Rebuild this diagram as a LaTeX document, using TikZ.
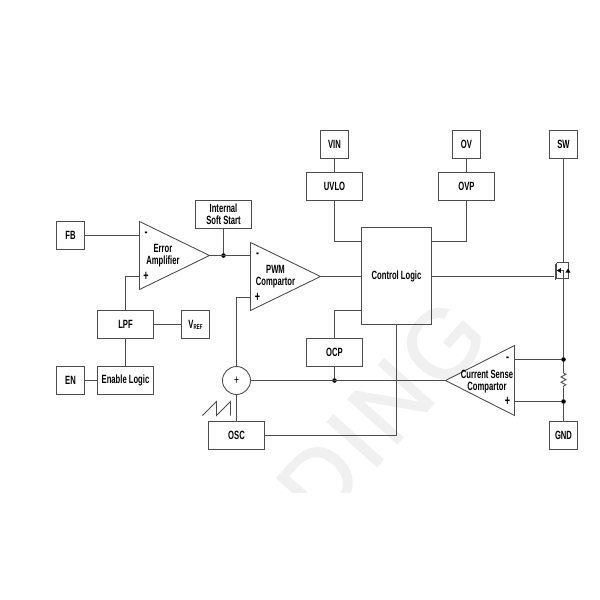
\documentclass[tikz,border=0pt]{standalone}
\usepackage{fontspec}
\setmainfont[FakeStretch=0.64]{Liberation Sans}
\newfontfamily\wmfont[FakeBold=1.6,LetterSpace=5]{Liberation Sans}
\usetikzlibrary{decorations.pathmorphing}

\tikzset{
  wire/.style={draw=black!70,line width=0.5pt},
  block/.style={draw=black!70,line width=0.5pt,inner sep=0pt,align=center,
    font=\fontsize{6.8}{6.8}\selectfont\bfseries,text=black},
  pin/.style={block,minimum width=0.56cm,minimum height=0.56cm},
  wide/.style={block,minimum width=1.12cm,minimum height=0.56cm},
  lbl/.style={inner sep=0pt,align=center,font=\fontsize{6.8}{6.8}\selectfont\bfseries,text=black},
  sgn/.style={inner sep=0pt,font=\fontsize{8}{8}\selectfont\bfseries,text=black},
  dot/.style={circle,fill=black,inner sep=0pt,minimum size=2.6pt}
}

\begin{document}
\begin{tikzpicture}[x=0.02cm,y=-0.02cm]
  \useasboundingbox (0,0) rectangle (600,600);

  % watermark
  \begin{scope}
    \clip (0,0) rectangle (600,492);
    \node[rotate=48,text=black!6,inner sep=0pt,font=\fontsize{55}{55}\selectfont\wmfont] (mark) at (382,411) {DING};
  \end{scope}

  % pins
  \foreach \name/\x/\y/\txt in {fb/70.5/235.5/FB,en/70.5/380.5/EN,vin/334.5/144.5/VIN,ov/466.5/144.5/OV,sw/563.5/144.5/SW,gnd/563.5/435.5/GND} {
    \node[pin] (\name) at (\x,\y) {\txt};
  }
  \node[pin] (vref) at (195.5,324.5) {V\raisebox{-0.5pt}{\fontsize{4}{4}\selectfont REF}};

  % blocks
  \foreach \name/\x/\y/\txt in {soft/223.5/214.5/Internal\\Soft Start,lpf/125.5/324.5/LPF,enl/125.5/380.5/Enable Logic,uvlo/334.5/186.5/UVLO,ovp/466.5/186.5/OVP,ocp/334.5/352.5/OCP,osc/236.5/435.5/OSC} {
    \node[wide] (\name) at (\x,\y) {\txt};
  }
  \node[block,minimum width=1.4cm,minimum height=1.94cm] (ctrl) at (396.5,276) {Control Logic};
  \node[draw=black!70,line width=0.5pt,circle,minimum size=0.56cm,inner sep=0pt,font=\fontsize{7.5}{7.5}\selectfont] (sum) at (236.5,380.5) {+};

  % amplifiers
  \coordinate (eaM) at (139.5,235.5);
  \coordinate (eaP) at (139.5,276.5);
  \coordinate (eaO) at (209.5,255.5);
  \draw[wire] (139.5,221.5) -- (eaO) -- (139.5,289.5) -- cycle;
  \node[lbl] (eaT) at (163,255.7) {Error\\Amplifier};
  \node[sgn] (eaA) at (146,234.5) {-};
  \node[sgn] (eaB) at (146,276) {+};

  \coordinate (pwM) at (250.5,255.5);
  \coordinate (pwP) at (250.5,297.5);
  \coordinate (pwO) at (320.5,276.5);
  \draw[wire] (250.5,242.5) -- (pwO) -- (250.5,310.5) -- cycle;
  \node[lbl] (pwT) at (275.5,276.3) {PWM\\Compartor};
  \node[sgn] (pwA) at (257.5,255) {-};
  \node[sgn] (pwB) at (257.5,297) {+};

  \coordinate (csM) at (514.5,359.5);
  \coordinate (csP) at (514.5,401.5);
  \coordinate (csO) at (445.5,380.5);
  \draw[wire] (514.5,345.5) -- (csO) -- (514.5,415.5) -- cycle;
  \node[lbl] (csT) at (487,382) {Current Sense\\Compartor};
  \node[sgn] (csA) at (507.5,359.5) {-};
  \node[sgn] (csB) at (507.5,401) {+};

  % saw tooth
  \draw[wire] (202.5,415.5) -- (216.5,401.5) -- (216.5,415.5) -- (230.5,401.5) -- (230.5,415.5);

  % control logic side points
  \coordinate (ctUv) at (361.5,241.5);
  \coordinate (ctOv) at (431.5,241.5);
  \coordinate (ctOc) at (361.5,310.5);
  \coordinate (ctPw) at (361.5,276.5);
  \coordinate (ctQ) at (431.5,276.5);
  \coordinate (ctOs) at (396.5,325);

  % mosfet
  \coordinate (qG) at (554.5,276.5);
  \coordinate (qD) at (563.5,262.5);
  \coordinate (qS) at (563.5,278.5);
  \draw[wire] (ctQ) -- (qG);
  \draw[wire,line width=0.7pt] (555.2,263.5) -- (555.2,279.5);
  \draw[wire,line width=0.7pt] (556.8,262.5) -- (556.8,278.5);
  \draw[wire] (556.8,262.5) -- (568,262.5) -- (568,278.5) -- (556.8,278.5);
  \draw[wire] (556.8,270.5) -- (563.5,270.5) -- (qS);
  \fill (556.8,270.5) -- (561,268) -- (561,273) -- cycle;
  \fill (568,268.5) -- (565.5,272.5) -- (570.5,272.5) -- cycle;

  % sense branch
  \node[dot] (dotM) at (563.5,359.5) {};
  \node[dot] (dotP) at (563.5,401.5) {};
  \node[dot] (dotS) at (223.5,255.5) {};
  \node[dot] (dotC) at (334.5,380.5) {};
  \coordinate (rT) at (563.5,373);
  \coordinate (rB) at (563.5,387.5);

  % connections
  \draw[wire] (fb) -- (eaM);
  \draw[wire] (lpf.north) |- (eaP);
  \draw[wire] (lpf) -- (vref);
  \draw[wire] (lpf) -- (enl);
  \draw[wire] (en) -- (enl);
  \draw[wire] (eaO) -- (pwM);
  \draw[wire] (soft) -- (dotS);
  \draw[wire] (sum.north) |- (pwP);
  \draw[wire] (sum) -- (osc);
  \draw[wire] (osc) -| (ctOs);
  \draw[wire] (pwO) -- (ctPw);
  \draw[wire] (vin) -- (uvlo);
  \draw[wire] (ov) -- (ovp);
  \draw[wire] (uvlo.south) |- (ctUv);
  \draw[wire] (ovp.south) |- (ctOv);
  \draw[wire] (ocp.north) |- (ctOc);
  \draw[wire] (ocp) -- (dotC);
  \draw[wire] (sum) -- (csO);
  \draw[wire] (csM) -- (dotM);
  \draw[wire] (csP) -- (dotP);
  \draw[wire] (sw) -- (qD);
  \draw[wire] (qS) -- (dotM) -- (rT);
  \draw[wire,decorate,decoration={zigzag,amplitude=1.4pt,segment length=3pt}] (rT) -- (rB);
  \draw[wire] (rB) -- (dotP) -- (gnd);
\end{tikzpicture}
\end{document}
